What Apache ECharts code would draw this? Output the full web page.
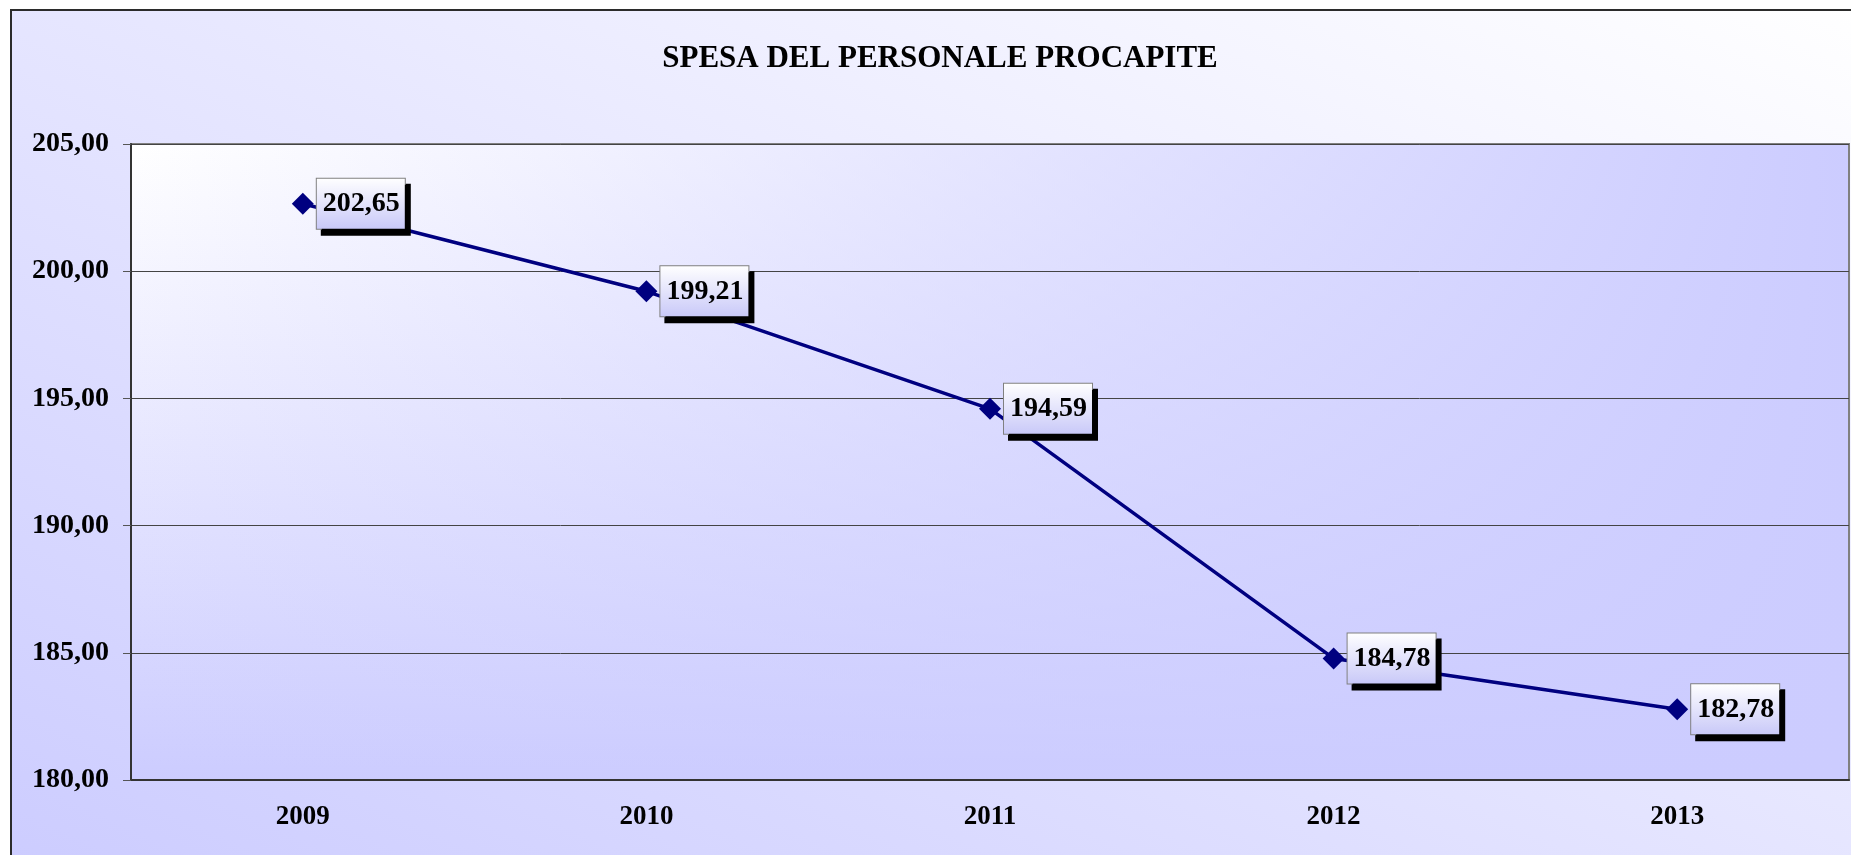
<!DOCTYPE html>
<html>
<head>
<meta charset="utf-8">
<title>SPESA DEL PERSONALE PROCAPITE</title>
<script src="https://cdn.jsdelivr.net/npm/echarts@6/dist/echarts.min.js"></script>
<style>
html, body { margin: 0; padding: 0; background: #fff; }
#chart { width: 1851px; height: 855px; }
</style>
</head>
<body>
<div id="chart"></div>
<script>
// dati
var anni = ['2009', '2010', '2011', '2012', '2013'];
var spesaProcapite = [202.65, 199.21, 194.59, 184.78, 182.78];
var yMin = 180, yMax = 205, yStep = 5;

var serif = 'Liberation Serif, Times New Roman, serif';
var blu = '#000080';

// area esterna: sfumatura diagonale (in basso a sinistra lavanda -> in alto a destra bianco)
var outerW = 1860, outerH = 860;
var L2 = outerW * outerW + outerH * outerH;
var outerFill = {
    type: 'linear',
    x: 0, y: 1,
    x2: 2 * outerH * outerH / L2,
    y2: 1 - 2 * outerW * outerW / L2,
    colorStops: [
        { offset: 0, color: '#ccccff' },
        { offset: 1, color: '#ffffff' }
    ]
};

var grid = { left: 131, top: 144, right: 2, bottom: 75 };
var plotW = 1851 - grid.left - grid.right;
var plotH = 855 - grid.top - grid.bottom;

function fmt(v) {
    return v.toFixed(2).replace('.', ',');
}

var chart = echarts.init(document.getElementById('chart'));
chart.setOption({
    backgroundColor: '#ffffff',
    animation: false,
    title: {
        text: 'SPESA DEL PERSONALE PROCAPITE',
        left: 940,
        top: 43,
        padding: 0,
        textAlign: 'center',
        textStyle: {
            fontFamily: serif,
            fontWeight: 'bold',
            fontSize: 31,
            color: '#000'
        }
    },
    graphic: [
        {
            type: 'rect',
            z: -10,
            shape: { x: 11, y: 10, width: outerW, height: outerH },
            style: { fill: outerFill, stroke: '#2b2b2b', lineWidth: 2 },
            silent: true
        },
        {
            // sfondo area del grafico, verticale
            type: 'rect',
            z: -5,
            shape: { x: grid.left, y: grid.top, width: plotW, height: plotH },
            style: {
                fill: {
                    type: 'linear', x: 0, y: 0, x2: 0, y2: 1,
                    colorStops: [
                        { offset: 0, color: '#ffffff' },
                        { offset: 1, color: '#ccccff' }
                    ]
                }
            },
            silent: true
        },
        {
            // sovrapposizione orizzontale
            type: 'rect',
            z: -4,
            shape: { x: grid.left, y: grid.top, width: plotW, height: plotH },
            style: {
                fill: {
                    type: 'linear', x: 0, y: 0, x2: 1, y2: 0,
                    colorStops: [
                        { offset: 0, color: 'rgba(204,204,255,0)' },
                        { offset: 1, color: 'rgba(204,204,255,1)' }
                    ]
                }
            },
            silent: true
        }
    ],
    grid: {
        left: grid.left,
        top: grid.top,
        right: grid.right,
        bottom: grid.bottom,
        show: true,
        borderColor: '#808080',
        borderWidth: 2,
        backgroundColor: 'transparent',
        containLabel: false
    },
    xAxis: {
        type: 'category',
        data: anni,
        boundaryGap: true,
        axisLine: { lineStyle: { color: '#333', width: 2 } },
        axisTick: { interval: 0, length: 8, lineStyle: { color: '#555', width: 1 } },
        axisLabel: {
            margin: 24,
            fontFamily: serif,
            fontWeight: 'bold',
            fontSize: 27,
            color: '#000'
        },
        splitLine: { show: false }
    },
    yAxis: {
        type: 'value',
        min: yMin,
        max: yMax,
        interval: yStep,
        axisLine: { show: true, lineStyle: { color: '#333', width: 2 } },
        axisTick: { show: true, length: 8, lineStyle: { color: '#555', width: 1 } },
        axisLabel: {
            margin: 22,
            fontFamily: serif,
            fontWeight: 'bold',
            fontSize: 28,
            color: '#000',
            formatter: fmt
        },
        splitLine: { show: true, lineStyle: { color: '#444', width: 1 } }
    },
    series: [{
        type: 'line',
        data: spesaProcapite,
        symbol: 'diamond',
        symbolSize: 22,
        lineStyle: { color: blu, width: 3.5 },
        itemStyle: { color: blu },
        label: {
            show: true,
            position: 'right',
            distance: 3,
            formatter: function (p) { return fmt(p.value); },
            fontFamily: serif,
            fontWeight: 'bold',
            fontSize: 28,
            lineHeight: 32,
            color: '#000',
            padding: [9, 5, 9, 6],
            backgroundColor: {
                type: 'linear', x: 0, y: 0, x2: 0, y2: 1,
                colorStops: [
                    { offset: 0, color: '#ffffff' },
                    { offset: 1, color: '#c8c8f8' }
                ]
            },
            borderColor: '#808080',
            borderWidth: 1,
            shadowColor: '#000',
            shadowBlur: 0,
            shadowOffsetX: 5,
            shadowOffsetY: 6
        }
    }]
});
</script>
</body>
</html>
